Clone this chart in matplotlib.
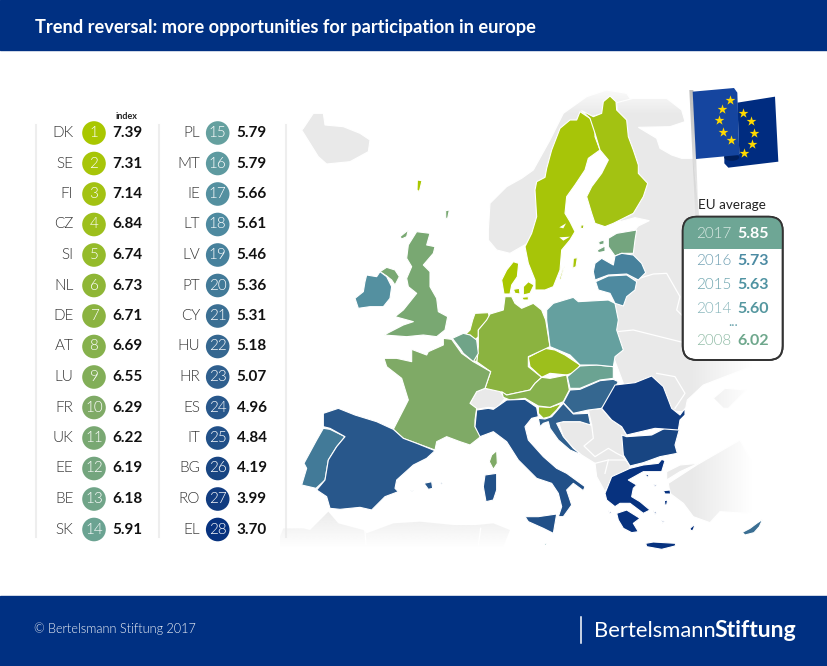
"""EU participation index: ranking columns, hand traced map, EU average box."""
import matplotlib
matplotlib.use("Agg")
import matplotlib.pyplot as plt
from matplotlib.patches import Circle, Ellipse, FancyBboxPatch, Polygon, Rectangle
import numpy as np

plt.rcParams["font.family"] = ["Lato", "DejaVu Sans"]

NAVY = "#003082"
LAND = "#e9e9e9"

CODES = ["DK", "SE", "FI", "CZ", "SI", "NL", "DE", "AT", "LU", "FR", "UK", "EE", "BE", "SK",
         "PL", "MT", "IE", "LT", "LV", "PT", "CY", "HU", "HR", "ES", "IT", "BG", "RO", "EL"]
VALUES = ["7.39", "7.31", "7.14", "6.84", "6.74", "6.73", "6.71", "6.69", "6.55", "6.29", "6.22", "6.19", "6.18", "5.91",
          "5.79", "5.79", "5.66", "5.61", "5.46", "5.36", "5.31", "5.18", "5.07", "4.96", "4.84", "4.19", "3.99", "3.70"]
RANK_COLORS = ["#a9c700", "#a7c508", "#a3c212", "#9dbf1c", "#95bb2a", "#8fb636", "#8bb340",
               "#86b14c", "#82ae58", "#7faa66", "#79a872", "#74a57e", "#70a488", "#6ba392",
               "#65a09f", "#5e9aa0", "#5490a0", "#4e8aa0", "#47819c", "#427a98", "#3b6f93",
               "#356790", "#2f5f8e", "#28578b", "#215088", "#184582", "#113c80", "#07327f"]

AVG_YEARS = ["2017", "2016", "2015", "2014", "2008"]
AVG_VALUES = ["5.85", "5.73", "5.63", "5.60", "6.02"]
AVG_YEAR_COLORS = ["#dcebe6", "#6e9fb2", "#6aa3ad", "#86b5ba", "#8fbba5"]
AVG_VALUE_COLORS = ["#ffffff", "#4c8ba3", "#4f93a2", "#55979f", "#6ea78c"]
AVG_ROWS = [234.5, 261, 285, 309, 341]

STARS = [(210, 60), (186, 87), (178, 121), (188, 155), (214, 180),
         (248, 99), (274, 123), (283, 158), (276, 191), (252, 218)]


def crop(x0, y0, pts):
    return [(x0 + x / 3, y0 + y / 3) for x, y in pts]


def n(pts):
    return crop(280, 90, pts)


def s(pts):
    return crop(280, 320, pts)


def e1(pts):
    return crop(600, 90, pts)


def e2(pts):
    return crop(600, 340, pts)


SHAPES = {
    "SE": [n([(900, 65), (930, 85), (945, 110), (945, 140), (960, 180), (925, 205), (915, 240), (885, 285),
              (860, 320), (855, 370), (870, 395), (885, 425), (870, 450), (845, 480), (840, 540), (820, 590),
              (795, 600), (765, 600), (765, 570), (745, 520), (735, 470), (755, 430), (770, 380), (765, 300),
              (770, 275), (795, 262), (800, 235), (815, 180), (840, 115), (870, 90), (890, 90)]),
           n([(880, 505), (892, 503), (888, 530), (878, 535)]),
           n([(848, 535), (853, 530), (842, 570), (838, 568)])],
    "FI": [n([(905, 62), (940, 80), (965, 70), (970, 35), (990, 18), (1008, 35), (1010, 60), (1040, 90), (1045, 140),
              (1060, 180), (1075, 225), (1075, 250), (1103, 280), (1090, 320), (1060, 370), (1000, 400), (975, 410),
              (945, 400), (935, 370), (920, 320), (935, 290), (965, 250), (985, 210), (960, 180), (945, 130), (930, 85)]),
           n([(903, 405), (912, 405), (910, 416), (902, 415)])],
    "DK": [n([(665, 570), (680, 540), (700, 515), (716, 520), (712, 560), (695, 585), (690, 612), (672, 612)]),
           n([(730, 590), (745, 575), (762, 585), (750, 610), (730, 615)]),
           n([(700, 598), (718, 595), (720, 612), (705, 610)]),
           n([(725, 622), (745, 620), (745, 630), (730, 630)]),
           n([(412, 270), (426, 272), (418, 305), (411, 300)])],
    "EE": [n([(985, 445), (1010, 430), (1070, 420), (1065, 450), (1060, 490), (1025, 490), (1005, 498), (985, 470)]),
           n([(952, 480), (975, 468), (975, 484), (955, 488)]),
           n([(956, 455), (972, 450), (972, 462), (958, 465)])],
    "LV": [n([(945, 520), (965, 505), (1000, 525), (1005, 498), (1025, 490), (1060, 495), (1085, 520), (1097, 548),
              (1075, 570), (1040, 552), (985, 555), (945, 570), (940, 545)])],
    "LT": [n([(947, 575), (985, 558), (1040, 555), (1070, 575), (1065, 600), (1040, 620), (1030, 648), (1005, 640),
              (990, 610), (955, 600)])],
    "PL": [n([(800, 660), (820, 640), (880, 622), (895, 635), (985, 630), (1005, 640), (1015, 690), (1010, 720),
              (1030, 780), (1005, 800), (1000, 830), (950, 825), (900, 825), (870, 795), (810, 770), (800, 690)])],
    "DE": [n([(620, 690), (595, 720), (595, 770), (590, 815), (632, 845), (615, 895), (660, 905), (680, 915), (750, 900),
              (765, 880), (785, 862), (745, 830), (745, 800), (810, 770), (797, 690), (785, 660), (760, 640), (725, 655),
              (705, 640), (695, 620), (675, 620), (670, 660), (630, 672)])],
    "NL": [n([(555, 735), (570, 720), (578, 690), (585, 670), (625, 668), (628, 680), (618, 695), (595, 720), (595, 740),
              (585, 750), (570, 735)])],
    "BE": [s([(517, 55), (550, 40), (570, 45), (590, 60), (595, 100), (580, 125), (550, 100), (540, 85)])],
    "LU": [s([(580, 100), (593, 105), (590, 125), (580, 122)])],
    "FR": [s([(490, 55), (515, 58), (545, 100), (580, 125), (632, 155), (615, 205), (590, 215), (570, 250), (590, 265),
              (585, 300), (585, 320), (602, 350), (570, 375), (540, 365), (500, 350), (470, 365), (465, 390), (410, 370),
              (370, 355), (340, 328), (375, 260), (385, 240), (365, 175), (320, 140), (312, 115), (350, 115), (395, 125),
              (395, 88), (440, 105), (445, 95), (490, 75)]),
           s([(650, 392), (652, 430), (640, 448), (628, 425), (635, 405)])],
    "AT": [s([(665, 215), (680, 225), (750, 210), (765, 190), (785, 172), (810, 175), (860, 165), (868, 210), (850, 245),
              (810, 262), (775, 258), (735, 235), (690, 240), (670, 232)])],
    "CZ": [s([(745, 112), (795, 85), (825, 90), (855, 105), (900, 135), (890, 155), (860, 165), (810, 160), (785, 172),
              (750, 140)])],
    "SK": [s([(900, 138), (950, 135), (1000, 140), (1000, 175), (960, 180), (900, 205), (870, 205), (862, 170)])],
    "HU": [s([(870, 210), (900, 208), (960, 182), (1000, 178), (1015, 185), (985, 240), (965, 265), (925, 270), (880, 280),
              (850, 248)])],
    "SI": [s([(775, 260), (810, 262), (845, 250), (830, 270), (810, 290), (790, 295), (775, 280)])],
    "HR": [s([(850, 250), (880, 282), (925, 280), (932, 315), (900, 305), (850, 305), (830, 310), (850, 350), (880, 385),
              (905, 405), (870, 390), (835, 360), (810, 325), (805, 305), (790, 310), (780, 320), (775, 295), (795, 297),
              (815, 290)])],
    "IT": [s([(590, 270), (625, 265), (640, 268), (680, 240), (735, 238), (770, 262), (775, 290), (755, 295), (735, 320),
              (745, 360), (790, 410), (830, 445), (860, 460), (915, 500), (910, 512), (880, 490), (860, 510), (875, 555),
              (850, 590), (835, 590), (845, 560), (835, 520), (815, 490), (770, 475), (715, 420), (680, 365), (640, 335),
              (600, 350), (585, 320)]),
           s([(735, 590), (775, 590), (830, 582), (820, 640), (790, 625), (745, 605)]),
           s([(615, 465), (650, 460), (650, 510), (640, 540), (618, 545), (610, 500)])],
    "ES": [s([(130, 280), (175, 265), (225, 285), (290, 305), (340, 328), (370, 355), (410, 370), (465, 392), (440, 415),
              (400, 435), (350, 480), (345, 505), (355, 515), (315, 530), (275, 570), (240, 562), (180, 568), (150, 565),
              (140, 530), (110, 510), (135, 480), (145, 420), (170, 380), (195, 350), (150, 325), (130, 320)]),
           s([(432, 490), (455, 485), (458, 505), (445, 508)]),
           s([(478, 487), (488, 487), (485, 493)]),
           s([(392, 510), (400, 510), (396, 515)])],
    "PT": [s([(130, 325), (150, 328), (195, 350), (170, 380), (145, 420), (135, 480), (108, 505), (65, 495), (80, 445),
              (72, 430), (110, 360)])],
    "IE": [n([(260, 555), (290, 560), (300, 545), (320, 560), (335, 590), (330, 625), (310, 650), (270, 650), (235, 655),
              (225, 625), (250, 605), (255, 575)])],
    "UK": [n([(385, 465), (410, 425), (450, 430), (440, 465), (465, 470), (460, 490), (430, 525), (450, 545), (450, 590),
              (470, 625), (475, 665), (503, 680), (495, 720), (470, 740), (430, 735), (380, 740), (312, 735), (370, 705),
              (400, 695), (345, 680), (370, 660), (410, 610), (385, 590), (380, 565), (395, 530), (380, 505)]),
           n([(300, 545), (320, 532), (345, 540), (358, 560), (345, 585), (335, 570), (320, 558)]),
           n([(360, 440), (385, 420), (380, 440), (365, 447)]),
           n([(497, 362), (508, 360), (503, 385), (497, 385)])],
    "RO": [e2([(5, 205), (45, 135), (105, 128), (155, 108), (190, 140), (215, 205), (240, 225), (255, 205), (255, 225),
               (240, 240), (235, 270), (165, 265), (80, 285), (65, 260), (35, 240)])],
    "BG": [e2([(65, 285), (80, 290), (155, 285), (200, 262), (238, 268), (225, 315), (232, 340), (180, 350), (130, 368),
               (90, 378), (70, 345)])],
    "EL": [e2([(15, 460), (35, 410), (90, 385), (130, 375), (175, 370), (185, 358), (195, 362), (185, 395), (130, 395),
               (85, 420), (110, 435), (100, 445), (95, 470), (120, 485), (150, 510), (130, 520), (90, 490), (60, 490),
               (45, 500), (20, 480)]),
           e2([(50, 520), (80, 510), (120, 535), (100, 550), (115, 575), (95, 578), (70, 565), (55, 540)]),
           e2([(137, 610), (160, 606), (228, 610), (225, 618), (185, 628), (140, 620)]),
           e2([(135, 405), (148, 403), (143, 412)]),
           e2([(160, 432), (170, 434), (165, 440)]),
           e2([(190, 452), (210, 450), (212, 462), (195, 462)]),
           e2([(193, 482), (203, 480), (200, 495), (195, 495)]),
           e2([(160, 512), (170, 518), (165, 523)]),
           e2([(185, 540), (193, 545), (188, 550)]),
           e2([(25, 512), (35, 518), (30, 522)]),
           e2([(270, 565), (285, 552), (280, 570), (272, 572)])],
    "CY": [e2([(427, 577), (450, 565), (470, 550), (488, 538), (478, 560), (462, 578), (435, 585)])],
    "MT": [s([(792, 670), (798, 670), (800, 675), (794, 675)])],
}

GRAY_SHAPES = [
    n([(70, 115), (100, 70), (130, 70), (135, 105), (190, 110), (240, 130), (270, 150), (265, 185), (210, 215),
       (140, 222), (115, 200), (90, 160), (65, 120)]),
    n([(625, 420), (630, 340), (680, 290), (725, 265), (760, 240), (810, 150), (850, 70), (920, 20), (980, 0),
       (1040, 10), (1060, 40), (1010, 50), (970, 70), (900, 90), (800, 300), (760, 450), (690, 490), (650, 480),
       (625, 450)]),
    e1([(50, 38), (100, 25), (200, 25), (245, 60), (255, 95), (210, 110), (115, 112), (170, 145), (180, 175), (215, 195),
        (245, 205), (280, 205), (300, 380), (500, 700), (500, 820), (440, 835), (310, 885), (262, 930), (255, 965),
        (100, 960), (40, 800), (40, 650), (80, 500), (100, 425), (115, 408), (148, 392), (105, 383), (60, 395),
        (60, 200)]),
    s([(570, 250), (590, 215), (615, 205), (660, 213), (675, 235), (650, 265), (625, 262), (590, 268)]),
    s([(835, 305), (900, 305), (935, 315), (925, 270), (965, 265), (990, 295), (1025, 320), (1040, 345), (1030, 410),
       (1050, 438), (1045, 465), (990, 490), (975, 515), (950, 470), (945, 430), (905, 405), (880, 385), (850, 350)]),
    e2([(205, 430), (290, 375), (420, 300), (470, 390), (500, 500), (440, 520), (360, 515), (330, 548), (280, 530),
        (250, 490), (210, 460)]),
    e2([(200, 395), (240, 375), (295, 370), (240, 395), (200, 420)]),
    e2([(340, 175), (375, 145), (440, 150), (385, 205), (370, 205)]),
]

BORDERS = [
    e1([(108, 568), (160, 552), (200, 550), (240, 620), (230, 660), (250, 680)]),
    e1([(50, 725), (100, 720), (180, 740), (260, 760)]),
    e2([(170, 100), (225, 110), (255, 160), (225, 205)]),
    s([(935, 315), (940, 355), (912, 378), (945, 410), (985, 385), (1010, 400), (1030, 410)]),
    s([(945, 430), (985, 420), (1040, 420)]),
    s([(975, 460), (985, 420)]),
]

AFRICA = crop(270, 500, [(30, 110), (40, 85), (100, 85), (120, 90), (175, 35), (205, 70), (280, 90), (290, 100), (370, 70),
                         (450, 65), (550, 75), (620, 75), (670, 70), (720, 90), (700, 140), (30, 140)])
AFRICA_BORDERS = [crop(270, 500, [(285, 95), (288, 135)]), crop(270, 500, [(632, 85), (625, 135)])]
LAKES = [n([(838, 412), (858, 400), (850, 415)]), n([(838, 442), (870, 440), (850, 452)])]


def gradient(ax, extent, colors, alphas, vertical=False, clip=None):
    """RGBA ramp, used for the fading land and the flag pole."""
    ramp = np.linspace(alphas[0], alphas[1], 64)
    img = np.ones((1, 64, 4))
    img[..., :3] = matplotlib.colors.to_rgb(colors)
    img[0, :, 3] = ramp
    if vertical:
        img = img.transpose(1, 0, 2)
    im = ax.imshow(img, extent=extent, aspect="auto", interpolation="bilinear", zorder=2)
    if clip is not None:
        im.set_clip_path(clip)
    return im


fig = plt.figure(figsize=(8.28, 6.66), dpi=100)
ax = fig.add_axes([0, 0, 1, 1])
ax.axis("off")

# ── header / footer ──────────────────────────────────────────────────────────
ax.add_patch(Rectangle((0, 0), 828, 50, color=NAVY, zorder=10))
ax.add_patch(Rectangle((0, 596), 828, 70, color=NAVY, zorder=10))
ax.text(35.5, 33, "Trend reversal: more opportunities for participation in europe",
        color="white", fontsize=13.15, fontweight="bold", zorder=11)
ax.text(34, 629, "© Bertelsmann Stiftung 2017", color="#f0f3f8", fontsize=9.1, fontweight=300, va="center", zorder=11)
ax.plot([581.5, 581.5], [617, 643], color="white", lw=1.1, zorder=11)
ax.text(594, 637, "Bertelsmann", color="white", fontsize=15.8, zorder=11)
ax.text(714, 637, "Stiftung", color="white", fontsize=16.6, fontweight="bold", zorder=11)

# ── ranking columns ──────────────────────────────────────────────────────────
for x in (36, 159.3, 286):
    ax.plot([x, x], [125, 537], color="#eeeeee", lw=1.5, zorder=1)
ax.text(126.7, 116.5, "index", fontsize=6.5, fontweight="bold", color="#222222", ha="center", va="center")

for i, (code, val, col) in enumerate(zip(CODES, VALUES, RANK_COLORS)):
    row = i % 14
    y = 133 + row * 30.5
    x_code, x_dot, x_val = (73.5, 94, 112.7) if i < 14 else (200, 217.7, 236.7)
    ax.text(x_code, y, code, ha="right", va="center", fontsize=11, color="#333333", fontweight=300, zorder=5)
    ax.add_patch(Circle((x_dot, y), 11.8, color=col, lw=0, zorder=5))
    ax.text(x_dot, y, str(i + 1), ha="center", va="center", fontsize=11, color="white", fontweight=300, zorder=6)
    ax.text(x_val, y, val, ha="left", va="center", fontsize=11, color="#111111", fontweight="bold", zorder=5)

# ── map: gray land, fades, member states ─────────────────────────────────────
for pts in GRAY_SHAPES:
    ax.add_patch(Polygon(pts, closed=True, fc=LAND, ec="white", lw=0.8, zorder=1))
for pts in BORDERS:
    xs, ys = zip(*pts)
    ax.plot(xs, ys, color="white", lw=0.9, zorder=1.5)

gradient(ax, (690, 752, 600, 90), "white", (0, 1))
ax.add_patch(Rectangle((752, 90), 76, 500, color="white", zorder=2))
gradient(ax, (540, 700, 115, 88), "white", (0.85, 0), vertical=True)

africa = Polygon(AFRICA, closed=True, fc="none", ec="none", zorder=1)
ax.add_patch(africa)
gradient(ax, (270, 520, 548, 510), "#ebebeb", (1, 0), vertical=True, clip=africa)
for pts in AFRICA_BORDERS:
    xs, ys = zip(*pts)
    ax.plot(xs, ys, color="white", lw=0.9, zorder=2.5)

for code, col in zip(CODES, RANK_COLORS):
    for pts in SHAPES[code]:
        ax.add_patch(Polygon(pts, closed=True, fc=col, ec="white", lw=0.8, joinstyle="round", zorder=3))
for pts in LAKES:
    ax.add_patch(Polygon(pts, closed=True, fc="white", ec="none", zorder=3.5))

# ── flag ─────────────────────────────────────────────────────────────────────
pole = Polygon(crop(660, 80, [(88, 30), (100, 30), (116, 410), (106, 410)]), closed=True, fc="none", ec="none", zorder=4)
ax.add_patch(pole)
im = gradient(ax, (680, 705, 217, 90), "#bdbdbd", (1, 0.15), vertical=True, clip=pole)
im.set_zorder(4)
ax.add_patch(Polygon(crop(660, 80, [(232, 68), (345, 50), (355, 245), (205, 263), (193, 250), (193, 228), (238, 222)]),
                     closed=True, fc="#002c80", ec="none", zorder=4.1))
fold_x, fold_y = crop(660, 80, [(215, 232)])[0]
ax.add_patch(Ellipse((fold_x, fold_y), 15, 7, fc="#001f5c", ec="none", zorder=4.15))
ax.add_patch(Polygon(crop(660, 80, [(98, 35), (222, 24), (232, 38), (238, 225), (108, 237)]),
                     closed=True, fc="#15459f", ec="none", zorder=4.2))
star_xy = np.array(crop(660, 80, STARS))
ax.scatter(star_xy[:, 0], star_xy[:, 1], marker="*", s=55, color="#ffd900", lw=0, zorder=5)

# ── EU average box ───────────────────────────────────────────────────────────
ax.text(732, 205, "EU average", ha="center", va="center", fontsize=9.7, color="#222222")
box = FancyBboxPatch((682.7, 216.7), 100, 143.3, boxstyle="round,pad=0,rounding_size=14",
                     fc="white", ec="#333333", lw=1.3, zorder=5)
ax.add_patch(box)
head = Rectangle((682, 216), 102, 32.5, color="#6ea695", lw=0, zorder=5.1)
ax.add_patch(head)
head.set_clip_path(box)
box_line = FancyBboxPatch((682.7, 216.7), 100, 143.3, boxstyle="round,pad=0,rounding_size=14",
                          fc="none", ec="#333333", lw=1.3, zorder=5.2)
ax.add_patch(box_line)
for year, val, cy, cv, y in zip(AVG_YEARS, AVG_VALUES, AVG_YEAR_COLORS, AVG_VALUE_COLORS, AVG_ROWS):
    ax.text(731, y, year, ha="right", va="center", fontsize=11, color=cy, fontweight=300, zorder=6)
    ax.text(737, y, val, ha="left", va="center", fontsize=11.5, color=cv, fontweight="bold", zorder=6)
ax.text(733, 322, "...", ha="center", va="center", fontsize=10, color="#6aa3ad", zorder=6)

ax.set_xlim(0, 828)
ax.set_ylim(666, 0)
fig.savefig("out.png", dpi=100)
